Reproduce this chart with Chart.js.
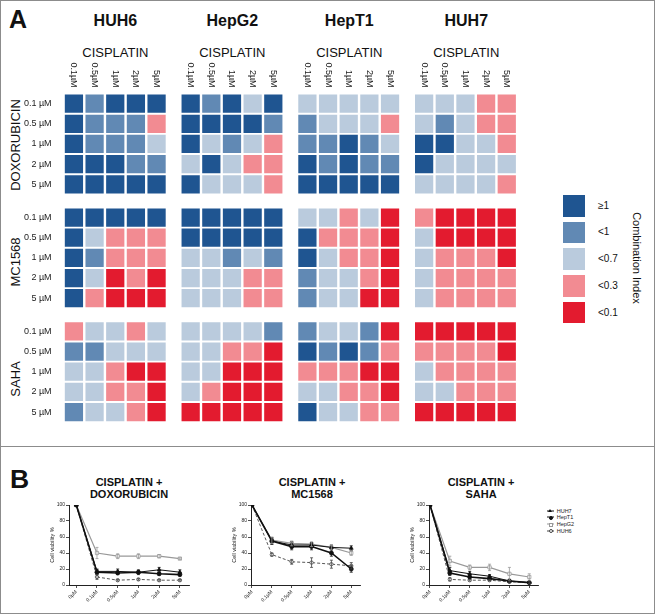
<!DOCTYPE html>
<html>
<head>
<meta charset="utf-8">
<script src="https://cdn.jsdelivr.net/npm/chart.js@4.4.0/dist/chart.umd.min.js"></script>
<style>
  body { margin: 0; background: #fff; }
  #fig { position: relative; width: 656px; height: 616px; overflow: hidden; font-family: "Liberation Sans", Arial, sans-serif; color: #111; }
  .abs { position: absolute; white-space: nowrap; line-height: 1; }
  .frame { position: absolute; left: 0; top: 0; width: 653px; height: 612px; border: 1px solid #8c8c8c; }
  .divider { position: absolute; left: 0; top: 446px; width: 655px; height: 0; border-top: 1px solid #8c8c8c; }
  .rot { transform: translate(-50%, -50%) rotate(-90deg); }
  .rotcw { transform: translate(-50%, -50%) rotate(90deg); }
  .ttl { font-weight: bold; font-size: 11px; line-height: 12px; text-align: center; transform: translateX(-50%); }
  canvas { position: absolute; }
  .lg-row { position: absolute; height: 6px; font-size: 5.5px; line-height: 6px; }
</style>
</head>
<body>
<div id="fig">
  <div class="frame"></div>
  <div class="divider"></div>

  <div class="abs" style="left:9px;top:6.8px;font-size:25px;font-weight:bold;">A</div>
  <div class="abs" style="left:10px;top:465.6px;font-size:26.5px;font-weight:bold;">B</div>

  <div id="heads"></div>
  <div id="ciLegend"></div>

  <canvas id="heat" width="530" height="375" style="left:0;top:60px;"></canvas>

  <div class="abs ttl" style="left:129px;top:475.9px;">CISPLATIN +<br>DOXORUBICIN</div>
  <div class="abs ttl" style="left:312px;top:475.9px;">CISPLATIN +<br>MC1568</div>
  <div class="abs ttl" style="left:481px;top:475.9px;">CISPLATIN +<br>SAHA</div>

  <canvas id="lineDoxo" width="146" height="111" style="left:48px;top:500px;"></canvas>
  <canvas id="lineMc" width="135" height="111" style="left:229.7px;top:500px;"></canvas>
  <canvas id="lineSaha" width="135" height="111" style="left:408px;top:500px;"></canvas>
  <div id="lineLegend"></div>
</div>

<script>
// ---- panel A: combination index heatmaps ----
const cellLines = ['HUH6', 'HepG2', 'HepT1', 'HUH7'];
const drugs = ['DOXORUBICIN', 'MC1568', 'SAHA'];
const rowDoses = ['0.1 µM', '0.5 µM', '1 µM', '2 µM', '5 µM'];
const colDoses = ['0.1µM', '0.5µM', '1µM', '2µM', '5µM'];
const ciLabels = ['<0.1', '<0.3', '<0.7', '<1', '≥1'];
const ciColors = ['#e31b2f', '#f28b92', '#bacbdd', '#6189b4', '#1f5591'];

// class index per cell (rows = drug dose, cols = cisplatin dose), 4 = ≥1 ... 0 = <0.1
const doxoHUH6 = [[4, 3, 4, 4, 4], [4, 3, 3, 3, 1], [4, 3, 3, 3, 2], [4, 4, 4, 3, 3], [4, 4, 4, 4, 4]];
const doxoHepG2 = [[4, 3, 4, 2, 4], [4, 4, 4, 4, 3], [4, 2, 3, 2, 1], [2, 4, 2, 1, 1], [4, 2, 2, 2, 1]];
const doxoHepT1 = [[2, 2, 2, 2, 2], [3, 2, 2, 2, 1], [3, 3, 4, 3, 2], [4, 3, 4, 3, 3], [4, 4, 4, 4, 4]];
const doxoHUH7 = [[2, 2, 2, 1, 1], [2, 3, 2, 1, 1], [4, 4, 2, 2, 1], [4, 2, 2, 2, 2], [2, 2, 2, 2, 1]];

const mcHUH6 = [[4, 4, 4, 4, 4], [4, 2, 1, 1, 1], [4, 3, 1, 1, 1], [4, 2, 0, 1, 0], [4, 1, 0, 0, 0]];
const mcHepG2 = [[4, 4, 4, 4, 4], [4, 4, 4, 4, 4], [2, 2, 3, 2, 3], [2, 2, 2, 1, 1], [2, 2, 2, 1, 1]];
const mcHepT1 = [[2, 2, 1, 2, 0], [4, 1, 1, 1, 0], [4, 2, 1, 1, 0], [3, 2, 2, 1, 0], [3, 2, 2, 0, 0]];
const mcHUH7 = [[1, 0, 0, 0, 0], [2, 0, 0, 0, 0], [2, 1, 1, 1, 0], [2, 1, 1, 1, 1], [2, 1, 1, 1, 1]];

const sahaHUH6 = [[1, 2, 2, 1, 2], [3, 3, 2, 2, 2], [2, 2, 1, 0, 0], [2, 2, 1, 1, 0], [3, 2, 2, 1, 0]];
const sahaHepG2 = [[2, 2, 2, 2, 3], [2, 2, 1, 1, 0], [2, 2, 0, 0, 0], [2, 1, 0, 0, 0], [0, 0, 0, 0, 0]];
const sahaHepT1 = [[3, 2, 2, 3, 0], [4, 3, 4, 3, 1], [1, 1, 1, 0, 0], [2, 2, 1, 1, 0], [4, 2, 2, 1, 1]];
const sahaHUH7 = [[0, 0, 0, 0, 0], [1, 1, 1, 1, 0], [2, 1, 1, 1, 1], [2, 2, 1, 1, 1], [0, 0, 0, 0, 0]];

const heatGrids = [
  [doxoHUH6, doxoHepG2, doxoHepT1, doxoHUH7],
  [mcHUH6, mcHepG2, mcHepT1, mcHUH7],
  [sahaHUH6, sahaHepG2, sahaHepT1, sahaHUH7],
];

// ---- panel B: cell viability ----
const lineDoses = ['0µM', '0.1µM', '0.5µM', '1µM', '2µM', '5µM'];
const seriesNames = ['HUH7', 'HepT1', 'HepG2', 'HUH6'];

const doxoHUH7Via = [100, 17, 17, 16, 19, 16];
const doxoHepT1Via = [100, 16, 15, 16, 14, 13];
const doxoHepG2Via = [100, 40, 36, 36, 36, 33];
const doxoHUH6Via = [100, 10, 6, 7, 6, 6];
const doxoHUH7Err = [0, 3, 3, 3, 3, 3];
const doxoHepT1Err = [0, 3, 2, 2, 2, 2];
const doxoHepG2Err = [0, 7, 3, 3, 2, 1];
const doxoHUH6Err = [0, 3, 1, 1, 1, 1];

const mcHUH7Via = [100, 55, 50, 50, 47, 46];
const mcHepT1Via = [100, 55, 48, 48, 40, 20];
const mcHepG2Via = [100, 56, 52, 51, 47, 40];
const mcHUH6Via = [100, 38, 29, 28, 26, 24];
const mcHUH7Err = [0, 4, 4, 3, 3, 3];
const mcHepT1Err = [0, 4, 4, 4, 4, 4];
const mcHepG2Err = [0, 4, 3, 3, 3, 3];
const mcHUH6Err = [0, 2, 3, 6, 5, 4];

const sahaHUH7Via = [100, 18, 14, 11, 5, 3];
const sahaHepT1Via = [100, 15, 10, 8, 5, 3];
const sahaHepG2Via = [100, 30, 22, 22, 14, 10];
const sahaHUH6Via = [100, 7, 6, 6, 4, 3];
const sahaHUH7Err = [0, 4, 3, 2, 2, 1];
const sahaHepT1Err = [0, 3, 2, 1, 1, 1];
const sahaHepG2Err = [0, 6, 3, 4, 8, 4];
const sahaHUH6Err = [0, 2, 1, 1, 1, 1];

Chart.defaults.font.family = '"Liberation Sans", Arial, sans-serif';
Chart.defaults.color = '#222';

const groupStep = 5.65;
const font = '"Liberation Sans", Arial, sans-serif';

// headings over the grids and drug names down the side
const heads = document.getElementById('heads');
function addText(html, style, cls) {
  const d = document.createElement('div');
  d.className = 'abs ' + (cls || '');
  d.style.cssText = style;
  d.innerHTML = html;
  heads.appendChild(d);
}
cellLines.forEach((name, g) => {
  const cx = 74 + (g * groupStep + 2) * 20.7;
  addText(name, `left:${cx}px;top:12.5px;font-size:16px;font-weight:bold;transform:translateX(-50%);`);
  addText('CISPLATIN', `left:${cx}px;top:46px;font-size:13px;transform:translateX(-50%);`);
});
drugs.forEach((name, d) => {
  const cy = 104 + (d * groupStep + 2) * 20.7;
  addText(name, `left:15px;top:${cy}px;font-size:13px;`, 'rot');
});

// combination index legend
const ciLegend = document.getElementById('ciLegend');
ciLabels.slice().reverse().forEach((lab, i) => {
  const col = ciColors[ciColors.length - 1 - i];
  const top = 195 + i * 26.7;
  const box = document.createElement('div');
  box.style.cssText = `position:absolute;left:563px;top:${top}px;width:22px;height:21.5px;background:${col};`;
  ciLegend.appendChild(box);
  const t = document.createElement('div');
  t.className = 'abs';
  t.style.cssText = `left:598px;top:${top + 10.75}px;font-size:10px;transform:translateY(-50%);`;
  t.textContent = lab;
  ciLegend.appendChild(t);
});
const ciTitle = document.createElement('div');
ciTitle.className = 'abs rotcw';
ciTitle.style.cssText = 'left:636px;top:258px;font-size:11px;';
ciTitle.textContent = 'Combination Index';
ciLegend.appendChild(ciTitle);

// heatmap as a scatter of square points
const heatSets = ciLabels.map((lab, k) => {
  const pts = [];
  heatGrids.forEach((row, d) => row.forEach((grid, g) => grid.forEach((r, ri) => r.forEach((v, ci) => {
    if (v === k) pts.push({ x: g * groupStep + ci, y: d * groupStep + ri });
  }))));
  return {
    label: lab,
    data: pts,
    backgroundColor: ciColors[k],
    borderWidth: 0,
    pointStyle: 'rect',
    pointRadius: 12.9,
    hoverRadius: 12.9,
  };
});

const colLabels = {
  id: 'colLabels',
  afterDraw(chart) {
    const { ctx, chartArea, scales: { x } } = chart;
    ctx.save();
    ctx.font = `9px ${font}`;
    ctx.fillStyle = '#222';
    ctx.textAlign = 'right';
    ctx.textBaseline = 'middle';
    cellLines.forEach((_, g) => colDoses.forEach((lab, c) => {
      ctx.save();
      ctx.translate(x.getPixelForValue(g * groupStep + c), chartArea.top - 6);
      ctx.rotate(Math.PI / 2);
      ctx.fillText(lab, 0, 0);
      ctx.restore();
    }));
    ctx.restore();
  },
};

new Chart(document.getElementById('heat'), {
  type: 'scatter',
  data: { datasets: heatSets },
  options: {
    responsive: false,
    animation: false,
    events: [],
    layout: { padding: { top: 33.6, right: 12, bottom: 4, left: 0 } },
    plugins: { legend: { display: false }, tooltip: { enabled: false } },
    scales: {
      x: { type: 'linear', display: false, min: -0.5, max: 3 * groupStep + 4.5 },
      y: {
        type: 'linear',
        reverse: true,
        min: -0.5,
        max: 2 * groupStep + 4.5,
        afterBuildTicks: (s) => {
          s.ticks = [];
          drugs.forEach((_, d) => rowDoses.forEach((__, r) => s.ticks.push({ value: d * groupStep + r })));
        },
        afterFit: (s) => { s.width = 63.6; },
        ticks: {
          autoSkip: false,
          padding: 4,
          font: { size: 9 },
          color: '#222',
          callback: (v, i) => rowDoses[i % 5],
        },
        grid: { display: false },
        border: { display: false },
      },
    },
  },
  plugins: [colLabels],
});

// error bars drawn from each dataset's errors array
const errorBars = {
  id: 'errorBars',
  afterDatasetsDraw(chart) {
    const { ctx, scales: { x, y } } = chart;
    ctx.save();
    chart.data.datasets.forEach((ds) => {
      ctx.strokeStyle = ds.borderColor;
      ctx.lineWidth = 0.8;
      ctx.setLineDash([]);
      ds.data.forEach((p, i) => {
        const e = ds.errors[i];
        if (!e) return;
        const px = x.getPixelForValue(p.x);
        const t = y.getPixelForValue(p.y + e);
        const b = y.getPixelForValue(p.y - e);
        ctx.beginPath();
        ctx.moveTo(px, t); ctx.lineTo(px, b);
        ctx.moveTo(px - 1.5, t); ctx.lineTo(px + 1.5, t);
        ctx.moveTo(px - 1.5, b); ctx.lineTo(px + 1.5, b);
        ctx.stroke();
      });
    });
    ctx.restore();
  },
};

const seriesStyle = [
  { color: '#111', pointStyle: 'triangle', fill: '#111', width: 1, radius: 2.2, dash: [] },
  { color: '#111', pointStyle: 'circle', fill: '#111', width: 1.6, radius: 2, dash: [] },
  { color: '#999', pointStyle: 'rect', fill: '#fff', width: 1.2, radius: 2.3, dash: [] },
  { color: '#444', pointStyle: 'circle', fill: '#fff', width: 0.9, radius: 1.7, dash: [3, 2] },
];

function viabilityChart(id, values, errors, xMin) {
  return new Chart(document.getElementById(id), {
    type: 'line',
    data: {
      datasets: values.map((vals, k) => ({
        label: seriesNames[k],
        data: vals.map((v, i) => ({ x: i, y: v })),
        errors: errors[k],
        borderColor: seriesStyle[k].color,
        backgroundColor: seriesStyle[k].color,
        borderWidth: seriesStyle[k].width,
        borderDash: seriesStyle[k].dash,
        pointStyle: seriesStyle[k].pointStyle,
        pointRadius: seriesStyle[k].radius,
        pointBackgroundColor: seriesStyle[k].fill,
        pointBorderColor: seriesStyle[k].color,
        pointBorderWidth: 0.8,
        tension: 0,
      })),
    },
    options: {
      responsive: false,
      animation: false,
      events: [],
      layout: { padding: { top: 5, right: 4, bottom: 0, left: 0 } },
      plugins: { legend: { display: false }, tooltip: { enabled: false } },
      scales: {
        x: {
          type: 'linear',
          min: xMin,
          max: 5.45,
          afterBuildTicks: (s) => { s.ticks = lineDoses.map((_, i) => ({ value: i })); },
          afterFit: (s) => { s.height = 26; },
          ticks: { autoSkip: false, minRotation: 45, maxRotation: 45, padding: 1, font: { size: 5 }, color: '#222',
            callback: (v, i) => lineDoses[i] },
          grid: { drawOnChartArea: false, tickLength: 3, color: '#222', lineWidth: 0.8 },
          border: { color: '#222', width: 1 },
        },
        y: {
          min: 0,
          max: 100,
          afterFit: (s) => { s.width = 21; },
          ticks: { stepSize: 20, padding: 1, font: { size: 5 }, color: '#222' },
          grid: { drawOnChartArea: false, tickLength: 3, color: '#222', lineWidth: 0.8 },
          border: { color: '#222', width: 1 },
          title: { display: true, text: 'Cell viability %', font: { size: 5.5 }, color: '#222', padding: { top: 1.4, bottom: 0 } },
        },
      },
    },
    plugins: [errorBars],
  });
}

viabilityChart('lineDoxo',
  [doxoHUH7Via, doxoHepT1Via, doxoHepG2Via, doxoHUH6Via],
  [doxoHUH7Err, doxoHepT1Err, doxoHepG2Err, doxoHUH6Err], -0.35);
viabilityChart('lineMc',
  [mcHUH7Via, mcHepT1Via, mcHepG2Via, mcHUH6Via],
  [mcHUH7Err, mcHepT1Err, mcHepG2Err, mcHUH6Err], -0.05);
const sahaChart = viabilityChart('lineSaha',
  [sahaHUH7Via, sahaHepT1Via, sahaHepG2Via, sahaHUH6Via],
  [sahaHUH7Err, sahaHepT1Err, sahaHepG2Err, sahaHUH6Err], -0.05);

// html legend built from the SAHA chart's datasets
const lineLegend = document.getElementById('lineLegend');
sahaChart.data.datasets.forEach((ds, k) => {
  const st = seriesStyle[k];
  const cy = 510.7 + k * 6.7;
  const row = document.createElement('div');
  row.className = 'lg-row';
  row.style.cssText = `left:546.7px;top:${cy - 3}px;`;
  const line = document.createElement('div');
  line.style.cssText = `position:absolute;left:0;top:3px;width:7.6px;border-top:${st.width}px ${st.dash.length ? 'dashed' : 'solid'} ${st.color};transform:translateY(-50%);`;
  row.appendChild(line);
  const mk = document.createElement('div');
  if (st.pointStyle === 'triangle') {
    mk.style.cssText = `position:absolute;left:1.8px;top:1px;width:0;height:0;border-left:2px solid transparent;border-right:2px solid transparent;border-bottom:3.5px solid ${st.color};`;
  } else {
    const r = st.pointStyle === 'circle' ? '50%' : '0';
    mk.style.cssText = `position:absolute;left:2.3px;top:1.5px;width:2.2px;height:2.2px;border:0.8px solid ${st.color};background:${st.fill};border-radius:${r};`;
  }
  row.appendChild(mk);
  const t = document.createElement('span');
  t.style.cssText = 'position:absolute;left:10px;top:0;color:#222;';
  t.textContent = ds.label;
  row.appendChild(t);
  lineLegend.appendChild(row);
});
</script>
</body>
</html>
